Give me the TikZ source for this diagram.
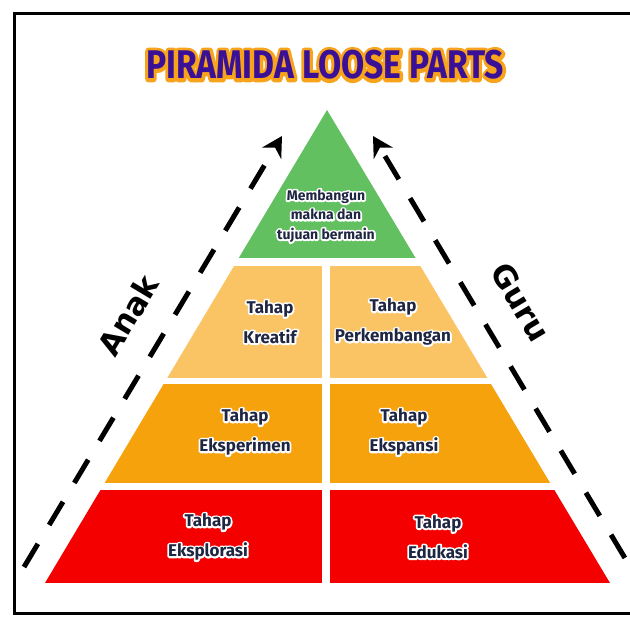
\documentclass[tikz,border=0pt]{standalone}
\usepackage{fontspec}
\usepackage{graphicx}
\setmainfont{Fira Sans}
\newfontfamily\sidefont{DejaVu Sans}
\usetikzlibrary{arrows.meta}

\definecolor{greenlvl}{RGB}{98,192,96}
\definecolor{lightlvl}{RGB}{250,196,100}
\definecolor{midlvl}{RGB}{246,162,12}
\definecolor{redlvl}{RGB}{245,0,0}
\definecolor{titlepurple}{RGB}{58,16,150}
\definecolor{labelnavy}{RGB}{30,38,66}

% stroked copy of the text behind it, as a halo
\newcommand{\halo}[3]{\rlap{\special{pdf:literal direct q 1 Tr #2 w #1 RG 1 J 1 j}#3\special{pdf:literal direct Q}}#3}
\newcommand{\otxt}[1]{\halo{1 1 1}{3.6}{#1}}

\tikzset{
  stage/.style={align=center, text=labelnavy, font=\bfseries\fontsize{17}{30}\selectfont},
  topstage/.style={align=center, text=labelnavy, font=\bfseries\fontsize{14}{19.5}\selectfont},
  sidelabel/.style={font=\sidefont\bfseries\fontsize{31}{31}\selectfont},
  path/.style={line width=5pt, dash pattern=on 27pt off 22pt, -{Stealth[length=20pt,width=22pt]}}
}

\begin{document}
\begin{tikzpicture}[x=1pt,y=-1pt]
\clip (0,0) rectangle (630,618);
\fill[white] (0,0) rectangle (630,618);
\draw[line width=3pt] (632,14) -- (14,14) -- (14,613) -- (632,613);

% title
\node[text=titlepurple] (title) at (325,65) {\scalebox{0.84}[1]{\fontsize{40}{40}\selectfont\bfseries\halo{0.97 0.64 0.11}{7}{PIRAMIDA LOOSE PARTS}}};

% layers of the pyramid
\begin{scope}
\clip (327,110) -- (45,583) -- (610,583) -- cycle;
\fill[greenlvl] (0,100) rectangle (630,258);
\foreach \top/\bot/\col in {266/378/lightlvl, 384/483/midlvl, 490/583/redlvl}{
  \fill[\col] (0,\top) rectangle (322,\bot);
  \fill[\col] (330,\top) rectangle (630,\bot);
}
\end{scope}

\node[topstage] (makna) at (326,216) {\otxt{Membangun}\\\otxt{makna dan}\\\otxt{tujuan bermain}};
\node[stage] (kreatif) at (270,322) {\otxt{Tahap}\\\otxt{Kreatif}};
\node[stage] (perkembangan) at (393,322) {\otxt{Tahap}\\\otxt{Perkembangan}};
\node[stage] (eksperimen) at (245,432) {\otxt{Tahap}\\\otxt{Eksperimen}};
\node[stage] (ekspansi) at (404,432) {\otxt{Tahap}\\\otxt{Ekspansi}};
\node[stage] (eksplorasi) at (208,537) {\otxt{Tahap}\\\otxt{Eksplorasi}};
\node[stage] (edukasi) at (438,537) {\otxt{Tahap}\\\otxt{Edukasi}};

% arrows along the sides
\coordinate (anakStart) at (24,567);
\coordinate (anakEnd) at (282,136);
\coordinate (guruStart) at (650,600);
\coordinate (guruEnd) at (373,136);
\draw[path] (anakStart) -- (anakEnd);
\draw[path] (guruStart) -- (guruEnd);

\node[sidelabel, rotate=59] (anak) at (128,315) {Anak};
\node[sidelabel, rotate=-59] (guru) at (521,302) {Guru};
\end{tikzpicture}
\end{document}
